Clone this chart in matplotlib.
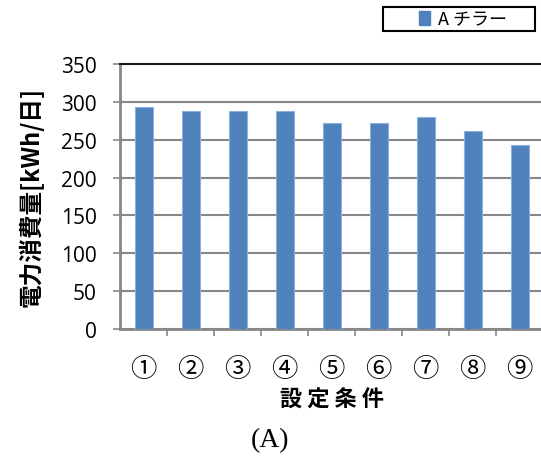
import matplotlib
matplotlib.use("Agg")
import matplotlib.pyplot as plt
from matplotlib.patches import Patch, Rectangle

plt.rcParams["font.family"] = ["Noto Sans CJK JP", "DejaVu Sans"]

conditions = ["①", "②", "③", "④", "⑤", "⑥", "⑦", "⑧", "⑨"]
power_use = [293, 288, 288, 288, 272, 272, 280, 261, 243]
series_name = "A チラー"
y_ticks = [0, 50, 100, 150, 200, 250, 300, 350]


def plot_data():
    fig = plt.figure(figsize=(5.41, 4.64), dpi=100)
    ax = fig.add_axes([0.222, 0.289, 0.782, 0.571])

    x = range(len(conditions))
    ax.bar(x, power_use, width=0.38, color="#4F81BD",
           edgecolor="#8DB0DC", linewidth=0.8, zorder=3)

    ax.set_xlim(-0.5, len(conditions) - 0.5)
    ax.set_ylim(0, 350)
    ax.set_yticks(y_ticks)
    ax.set_yticklabels([str(v) for v in y_ticks], fontsize=15,
                       family=["Open Sans", "DejaVu Sans"])
    ax.yaxis.grid(True, color="#878787", linewidth=1.5, zorder=0)

    # category labels sit between the tick marks
    ax.set_xticks([i + 0.5 for i in range(len(conditions) - 1)])
    ax.set_xticklabels([])
    ax.set_xticks(list(x), minor=True)
    ax.set_xticklabels(conditions, minor=True, fontsize=19)
    ax.tick_params(axis="x", which="minor", length=0, pad=19)
    ax.tick_params(axis="x", which="major", direction="out", length=5,
                   width=1.2, color="#878787")
    ax.tick_params(axis="y", direction="out", length=5, width=1.2,
                   color="#878787", pad=12)

    for side in ["left", "bottom"]:
        ax.spines[side].set_color("#878787")
        ax.spines[side].set_linewidth(2)
    ax.spines["top"].set_color("#1a1a1a")
    ax.spines["top"].set_linewidth(1.5)
    ax.spines["right"].set_visible(False)

    ax.set_ylabel("電力消費量[kWh/日]", fontsize=17, fontweight="bold",
                  labelpad=12)
    ax.set_xlabel("設 定 条 件", fontsize=16, fontweight="bold", labelpad=4)

    fig.text(0.5, 0.05, "(A)", ha="center", va="center", fontsize=20,
             family=["Liberation Serif"])

    # legend box drawn wide, with the entry centred in it
    fig.patches.append(Rectangle((0.708, 0.931), 0.281, 0.052,
                                 transform=fig.transFigure, fill=False,
                                 edgecolor="black", linewidth=1.5))
    fig.legend(handles=[Patch(color="#4F81BD", label=series_name)],
               loc="center", bbox_to_anchor=(0.855, 0.957),
               frameon=False, fontsize=13, handlelength=0.65,
               handleheight=0.8, handletextpad=0.4, borderpad=0)

    fig.savefig("out.png", dpi=100)


def main():
    plot_data()


if __name__ == "__main__":
    main()
